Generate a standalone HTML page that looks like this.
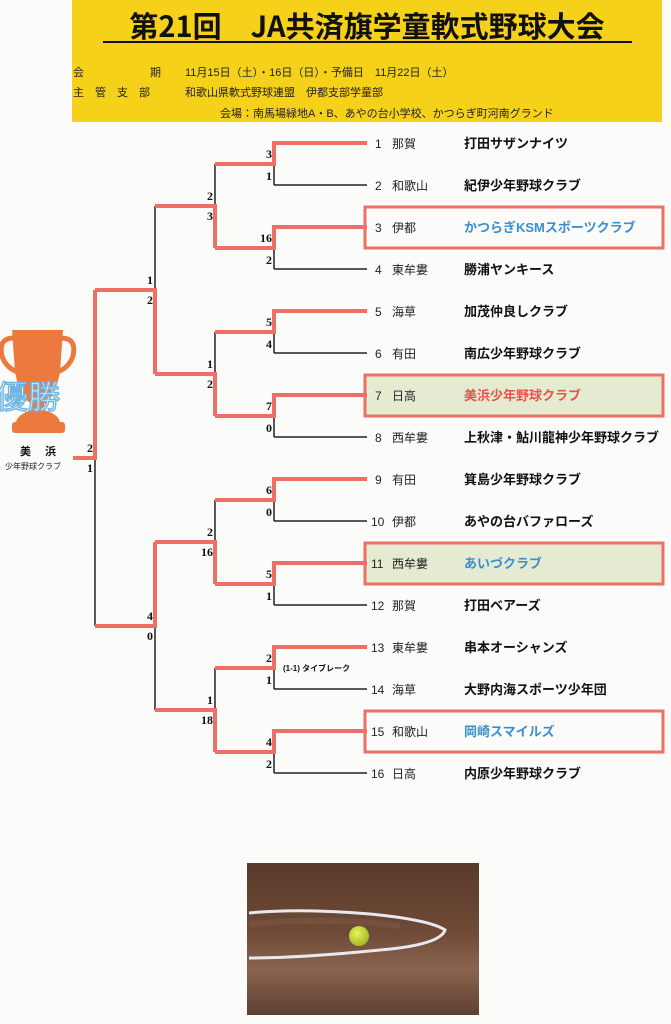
<!DOCTYPE html>
<html><head><meta charset="utf-8"><style>
html,body{margin:0;padding:0;background:#fbfbfa;}
body{width:671px;height:1024px;position:relative;overflow:hidden;font-family:"Liberation Sans","Noto Sans CJK JP",sans-serif;}
</style></head><body>
<svg width="671" height="1024" viewBox="0 0 671 1024" xmlns="http://www.w3.org/2000/svg" style="position:absolute;left:0;top:0">
<defs>
<linearGradient id="dirt" x1="0" y1="0" x2="0" y2="1">
<stop offset="0" stop-color="#5a3a2a"/><stop offset="0.45" stop-color="#6e4a36"/><stop offset="0.7" stop-color="#8a6450"/><stop offset="1" stop-color="#5e4030"/>
</linearGradient>
<radialGradient id="ball" cx="0.4" cy="0.35" r="0.7"><stop offset="0" stop-color="#e8f060"/><stop offset="1" stop-color="#9cb820"/></radialGradient>
</defs>
<!-- header -->
<rect x="72" y="0" width="590" height="122" fill="#f6d11a"/>
<text x="367" y="37" text-anchor="middle" font-size="29" font-weight="bold" fill="#111" font-family="'Noto Sans CJK JP',sans-serif">第21回　JA共済旗学童軟式野球大会</text>
<line x1="103" y1="42" x2="632" y2="42" stroke="#111" stroke-width="2"/>
<g font-size="11" fill="#222" font-family="Liberation Sans,'Noto Sans CJK JP',sans-serif">
<text x="73" y="76">会</text><text x="150" y="76">期</text>
<text x="185" y="76">11月15日（土）・16日（日）・予備日　11月22日（土）</text>
<text x="73" y="96">主　管　支　部</text>
<text x="185" y="96">和歌山県軟式野球連盟　伊都支部学童部</text>
<text x="220" y="117">会場：南馬場緑地A・B、あやの台小学校、かつらぎ町河南グランド</text>
</g>
<!-- boxes -->
<g stroke="#ee6f66" stroke-width="3">
<rect x="365" y="207" width="298" height="41" fill="none"/>
<rect x="365" y="375" width="298" height="41" fill="#e4ebd1"/>
<rect x="365" y="543" width="298" height="41" fill="#e4ebd1"/>
<rect x="365" y="711" width="298" height="41" fill="none"/>
</g>
<!-- black lines -->
<g stroke="#222" stroke-width="1.5" fill="none">
<path d="M274 143V185M274 227V269M274 311V353M274 395V437M274 479V521M274 563V605M274 647V689M274 731V773"/>
<path d="M274 185H367M274 269H367M274 353H367M274 437H367M274 521H367M274 605H367M274 689H367M274 773H367"/>
<path d="M215 164V248M215 332V416M215 500V584M215 668V752M155 206V374M155 542V710M95 290V626"/>
</g>
<!-- red winner paths -->
<g stroke="#ee6f66" stroke-width="4" fill="none" stroke-linejoin="miter">
<path d="M367 143H274V164H215"/><path d="M367 227H274V248H215"/>
<path d="M367 311H274V332H215"/><path d="M367 395H274V416H215"/>
<path d="M367 479H274V500H215"/><path d="M367 563H274V584H215"/>
<path d="M367 647H274V668H215"/><path d="M367 731H274V752H215"/>
<path d="M215 248V206H155"/><path d="M215 416V374H155"/>
<path d="M215 584V542H155"/><path d="M215 752V710H155"/>
<path d="M155 374V290H95"/><path d="M155 542V626H95"/>
<path d="M95 290V458H73"/>
</g>
<!-- scores -->
<g font-size="12" font-weight="bold" fill="#111" text-anchor="end" font-family="Liberation Serif,serif">
<text x="272" y="158">3</text><text x="272" y="180">1</text>
<text x="272" y="242">16</text><text x="272" y="264">2</text>
<text x="272" y="326">5</text><text x="272" y="348">4</text>
<text x="272" y="410">7</text><text x="272" y="432">0</text>
<text x="272" y="494">6</text><text x="272" y="516">0</text>
<text x="272" y="578">5</text><text x="272" y="600">1</text>
<text x="272" y="662">2</text><text x="272" y="684">1</text>
<text x="272" y="746">4</text><text x="272" y="768">2</text>
<text x="213" y="200">2</text><text x="213" y="220">3</text>
<text x="213" y="368">1</text><text x="213" y="388">2</text>
<text x="213" y="536">2</text><text x="213" y="556">16</text>
<text x="213" y="704">1</text><text x="213" y="724">18</text>
<text x="153" y="284">1</text><text x="153" y="304">2</text>
<text x="153" y="620">4</text><text x="153" y="640">0</text>
<text x="93" y="452">2</text><text x="93" y="472">1</text>
</g>
<text x="283" y="671" font-size="8" font-weight="bold" fill="#111">(1-1) タイブレーク</text>
<!-- teams -->
<g font-size="12" fill="#222">
<text x="375" y="148">1</text><text x="392" y="148">那賀</text>
<text x="375" y="190">2</text><text x="392" y="190">和歌山</text>
<text x="375" y="232">3</text><text x="392" y="232">伊都</text>
<text x="375" y="274">4</text><text x="392" y="274">東牟婁</text>
<text x="375" y="316">5</text><text x="392" y="316">海草</text>
<text x="375" y="358">6</text><text x="392" y="358">有田</text>
<text x="375" y="400">7</text><text x="392" y="400">日高</text>
<text x="375" y="442">8</text><text x="392" y="442">西牟婁</text>
<text x="375" y="484">9</text><text x="392" y="484">有田</text>
<text x="371" y="526">10</text><text x="392" y="526">伊都</text>
<text x="371" y="568">11</text><text x="392" y="568">西牟婁</text>
<text x="371" y="610">12</text><text x="392" y="610">那賀</text>
<text x="371" y="652">13</text><text x="392" y="652">東牟婁</text>
<text x="371" y="694">14</text><text x="392" y="694">海草</text>
<text x="371" y="736">15</text><text x="392" y="736">和歌山</text>
<text x="371" y="778">16</text><text x="392" y="778">日高</text>
</g>
<g font-size="13" font-weight="bold" fill="#111">
<text x="464" y="148">打田サザンナイツ</text>
<text x="464" y="190">紀伊少年野球クラブ</text>
<text x="464" y="232" fill="#3a8fd0">かつらぎKSMスポーツクラブ</text>
<text x="464" y="274">勝浦ヤンキース</text>
<text x="464" y="316">加茂仲良しクラブ</text>
<text x="464" y="358">南広少年野球クラブ</text>
<text x="464" y="400" fill="#e8524a">美浜少年野球クラブ</text>
<text x="464" y="442">上秋津・鮎川龍神少年野球クラブ</text>
<text x="464" y="484">箕島少年野球クラブ</text>
<text x="464" y="526">あやの台バファローズ</text>
<text x="464" y="568" fill="#3a8fd0">あいづクラブ</text>
<text x="464" y="610">打田ベアーズ</text>
<text x="464" y="652">串本オーシャンズ</text>
<text x="464" y="694">大野内海スポーツ少年団</text>
<text x="464" y="736" fill="#3a8fd0">岡崎スマイルズ</text>
<text x="464" y="778">内原少年野球クラブ</text>
</g>
<!-- trophy -->
<g fill="#ec7a3e">
<path d="M12 330H63L60 372Q55 398 44 404L44 410Q58 414 60 422H16Q18 414 32 410L32 404Q20 398 15 372Z"/>
<rect x="12" y="422" width="53" height="11" rx="3"/>
<path d="M14 338Q-2 338 2 356Q6 368 18 372" stroke="#ec7a3e" stroke-width="5" fill="none"/>
<path d="M61 338Q77 338 73 356Q69 368 57 372" stroke="#ec7a3e" stroke-width="5" fill="none"/>
</g>
<text x="-4" y="408" font-size="32" fill="#eef6fc" stroke="#6cb6e4" stroke-width="1.4" font-family="'Noto Sans CJK JP',sans-serif">優勝</text>
<text x="38" y="455" text-anchor="middle" font-size="11" font-weight="bold" fill="#111">美　 浜</text>
<text x="33" y="469" text-anchor="middle" font-size="8" fill="#222">少年野球クラブ</text>
<!-- photo -->
<rect x="247" y="863" width="232" height="152" fill="url(#dirt)"/>
<path d="M249 913Q300 908 370 914Q430 920 445 930Q440 945 380 950Q300 958 249 958" stroke="#e8e8ee" stroke-width="3" fill="none"/>
<path d="M249 924Q330 916 400 926" stroke="#7a5844" stroke-width="6" fill="none" opacity="0.6"/>
<circle cx="359" cy="936" r="10" fill="url(#ball)"/>
</svg>
</body></html>
